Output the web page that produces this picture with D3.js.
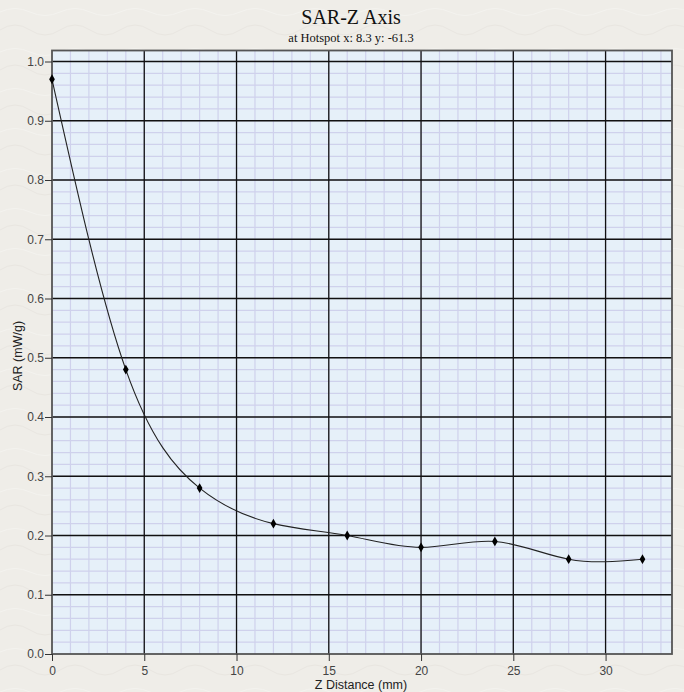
<!DOCTYPE html>
<html><head><meta charset="utf-8">
<script src="https://cdn.jsdelivr.net/npm/d3@7"></script>
<style>html,body{margin:0;padding:0;background:#efede8;}</style>
</head><body>
<script>
const zDistance = [0, 4, 8, 12, 16, 20, 24, 28, 32];
const sarValues = [0.97, 0.48, 0.28, 0.22, 0.20, 0.18, 0.19, 0.16, 0.16];
const xTicks = [0, 5, 10, 15, 20, 25, 30];
const yTicks = [0.0, 0.1, 0.2, 0.3, 0.4, 0.5, 0.6, 0.7, 0.8, 0.9, 1.0];
const titleText = "SAR-Z Axis";
const subtitleText = "at Hotspot x: 8.3 y: -61.3";
const xLabel = "Z Distance (mm)";
const yLabel = "SAR (mW/g)";

const W = 684, H = 692;
const L = 52, R = 672, T = 50.5, B = 654;
const svg = d3.select("body").append("svg").attr("width", W).attr("height", H);

// paper texture (subtle)
const defs = svg.append("defs");
const pat = defs.append("pattern").attr("id","paper").attr("width",60).attr("height",40).attr("patternUnits","userSpaceOnUse");
pat.append("rect").attr("width",60).attr("height",40).attr("fill","#efede8");
pat.append("path").attr("d","M0,30 Q15,20 30,30 T60,30").attr("fill","none").attr("stroke","#e9e6e0").attr("stroke-width",1);
pat.append("path").attr("d","M0,12 Q15,5 30,12 T60,12").attr("fill","none").attr("stroke","#f4f3ef").attr("stroke-width",1);
svg.append("rect").attr("width",W).attr("height",H).attr("fill","url(#paper)");

const x = d3.scaleLinear().domain([0, 33.6]).range([L, R]);
const y = d3.scaleLinear().domain([0, 1.0]).range([B, 61.5]);

svg.append("rect").attr("x",L).attr("y",T).attr("width",R-L).attr("height",B-T).attr("fill","#e6f0f9");

// minor grid
const g = svg.append("g");
g.selectAll("line.mx").data(d3.range(1, 34)).enter().append("line")
  .attr("x1", d=>x(d)).attr("x2", d=>x(d)).attr("y1", T).attr("y2", B)
  .attr("stroke","#cfd1ec").attr("stroke-width",1.2);
g.selectAll("line.my").data(d3.range(1, 51).map(i=>i*0.02).filter(v=>y(v)>T)).enter().append("line")
  .attr("x1", L).attr("x2", R).attr("y1", d=>y(d)).attr("y2", d=>y(d))
  .attr("stroke","#cfd1ec").attr("stroke-width",1.2);
// major grid
g.selectAll("line.Mx").data(xTicks.slice(1)).enter().append("line")
  .attr("x1", d=>x(d)).attr("x2", d=>x(d)).attr("y1", T).attr("y2", B)
  .attr("stroke","#111").attr("stroke-width",1.3);
g.selectAll("line.My").data(yTicks.slice(1)).enter().append("line")
  .attr("x1", L).attr("x2", R).attr("y1", d=>y(d)).attr("y2", d=>y(d))
  .attr("stroke","#111").attr("stroke-width",1.3);

// border
svg.append("rect").attr("x",L).attr("y",T).attr("width",R-L).attr("height",B-T)
  .attr("fill","none").attr("stroke","#555").attr("stroke-width",1.8);

// axes
const xAxis = svg.append("g").attr("transform",`translate(0,${B})`)
  .call(d3.axisBottom(x).tickValues(xTicks).tickSize(7).tickSizeOuter(0).tickFormat(d3.format("d")));
const yAxis = svg.append("g").attr("transform",`translate(${L},0)`)
  .call(d3.axisLeft(y).tickValues(yTicks).tickSize(7).tickSizeOuter(0).tickFormat(d3.format(".1f")));
[xAxis, yAxis].forEach(a=>{
  a.select(".domain").remove();
  a.selectAll(".tick line").attr("stroke","#333");
  a.selectAll(".tick text").attr("fill","#444").style("font-family","'Liberation Sans', Arial, sans-serif").style("font-size","12px");
});
xAxis.selectAll(".tick text").attr("dy","0.95em");
yAxis.selectAll(".tick text").attr("x",-8);

// curve
const pts = zDistance.map((d,i)=>[d, sarValues[i]]);
const line = d3.line().x(d=>x(d[0])).y(d=>y(d[1])).curve(d3.curveNatural);
svg.append("path").datum(pts).attr("d", line).attr("fill","none").attr("stroke","#222").attr("stroke-width",1.1);

const diamond = d3.symbol().type(d3.symbolDiamond).size(28);
svg.selectAll("path.pt").data(pts).enter().append("path")
  .attr("transform", d=>`translate(${x(d[0])},${y(d[1])})`).attr("d", diamond).attr("fill","#000");

// titles
svg.append("text").attr("x",351).attr("y",24).attr("text-anchor","middle")
  .style("font-family","'Liberation Serif', 'Times New Roman', serif").style("font-size","20px").attr("fill","#111").text(titleText);
svg.append("text").attr("x",351).attr("y",42).attr("text-anchor","middle")
  .style("font-family","'Liberation Serif', 'Times New Roman', serif").style("font-size","12.5px").attr("fill","#111").text(subtitleText);
svg.append("text").attr("x",361).attr("y",689).attr("text-anchor","middle")
  .style("font-family","'Liberation Sans', Arial, sans-serif").style("font-size","12.5px").attr("fill","#222").text(xLabel);
svg.append("text").attr("transform","translate(22,356) rotate(-90)").attr("text-anchor","middle")
  .style("font-family","'Liberation Sans', Arial, sans-serif").style("font-size","12.5px").attr("fill","#222").text(yLabel);
</script>
</body></html>
